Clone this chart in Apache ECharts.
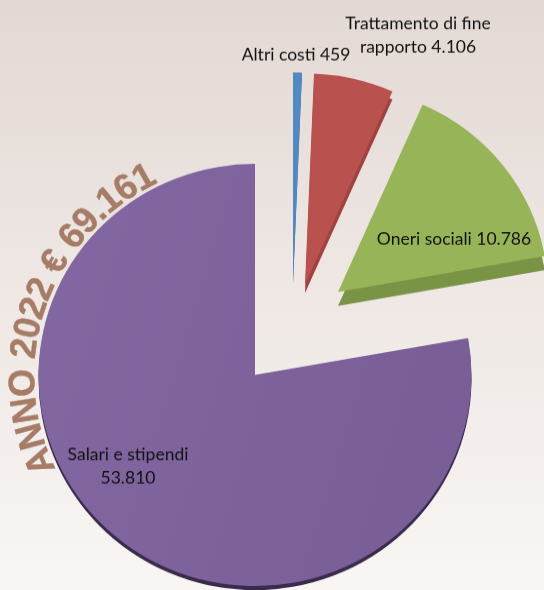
<!DOCTYPE html>
<html>
<head>
<meta charset="utf-8">
<style>
html,body{margin:0;padding:0;overflow:hidden}
#frame{width:544px;height:590px;overflow:hidden}
/* The pie is seen at a slight tilt, so its circles flatten a little */
#chart{width:544px;height:605.13px;transform:scaleY(.975);transform-origin:0 0}
</style>
<script src="https://cdn.jsdelivr.net/npm/echarts@6/dist/echarts.min.js"></script>
</head>
<body>
<div id="frame"><div id="chart"></div></div>
<script>
// Composizione del costo del personale, anno 2022
const categories = ['Salari e stipendi', 'Altri costi', 'Trattamento di fine rapporto', 'Oneri sociali'];
const values = [53810, 459, 4106, 10786];
const labelLines = ['Salari e stipendi\n', 'Altri costi ', 'Trattamento di fine\nrapporto ', 'Oneri sociali '];
const headline = 'ANNO 2022 € 69.161';

const tilt = 0.975;
const up = y => y / tilt;

// Faces and side walls of the exploded slices
const faceColors = [
  { type: 'linear', x: 0, y: 0, x2: 1, y2: 0.3, colorStops: [{ offset: 0, color: '#8368a3' }, { offset: 1, color: '#795e97' }] },
  '#5289c3', '#b9514f', '#97b458'
];
const wallColors = ['#3a2a4c', '#3f6c9e', '#a04240', '#7a9445'];
const slicePlace = [
  { center: [255, 375], radius: 216.5, wall: 4, label: [128, 466] },
  { center: [293, 283], radius: 216, wall: 1, label: [296, 55] },
  { center: [305, 285], radius: 217, wall: 8, label: [418, 35] },
  { center: [338, 292], radius: 210, wall: 14, label: [454, 239] }
];
const startAngle = 10.1;

const formatValue = v => String(v).replace(/\B(?=(\d{3})+$)/g, '.');

function pieFor(index, isWall) {
  const place = slicePlace[index];
  return {
    type: 'pie',
    animation: false,
    silent: true,
    startAngle,
    center: [place.center[0], up(place.center[1] + (isWall ? place.wall : 0))],
    radius: [0, place.radius],
    z: isWall ? 1 : 2,
    label: { show: false },
    labelLine: { show: false },
    data: categories.map((name, i) => ({
      name,
      value: values[i],
      itemStyle: {
        color: i === index ? (isWall ? wallColors[index] : faceColors[index]) : 'rgba(0,0,0,0)'
      }
    }))
  };
}

// Slice captions, each one built from its category's value
function sliceCaptions() {
  return categories.map((_, i) => ({
    type: 'text',
    x: slicePlace[i].label[0],
    y: up(slicePlace[i].label[1]),
    z: 6,
    style: {
      text: labelLines[i] + formatValue(values[i]),
      fill: '#111',
      fontFamily: 'Lato',
      fontSize: 17.5,
      lineHeight: 24,
      align: 'center',
      verticalAlign: 'middle'
    }
  }));
}

// Headline set letter by letter along the rim of the large slice
function arcLetters() {
  const advance = { ' ': 0.278, '.': 0.278, A: 0.722, N: 0.722, O: 0.778 };
  const cx = 255, cy = up(376), ring = 231, size = 37;
  const widths = Array.from(headline).map(ch => advance[ch] || 0.556);
  const total = widths.reduce((a, b) => a + b, 0);
  const first = -115.5, last = -26;
  let run = 0;
  return Array.from(headline).map((ch, i) => {
    const mid = run + widths[i] / 2;
    run += widths[i];
    const deg = first + (last - first) * mid / total;
    const rad = deg * Math.PI / 180;
    return {
      type: 'text',
      x: cx + ring * Math.sin(rad),
      y: cy - ring * Math.cos(rad),
      rotation: -rad,
      z: 5,
      style: {
        text: ch,
        fill: '#a67c66',
        stroke: '#a67c66',
        lineWidth: 0.4,
        fontFamily: 'Liberation Sans',
        fontWeight: 'bold',
        fontSize: size,
        align: 'center',
        verticalAlign: 'middle'
      }
    };
  });
}

const series = [];
categories.forEach((_, i) => { series.push(pieFor(i, true)); });
categories.forEach((_, i) => { series.push(pieFor(i, false)); });

const chart = echarts.init(document.getElementById('chart'), null, { renderer: 'canvas' });
chart.setOption({
  backgroundColor: {
    type: 'linear', x: 0, y: 0, x2: 0, y2: 1,
    colorStops: [
      { offset: 0, color: '#e3d9d4' },
      { offset: 0.5, color: '#efe8e5' },
      { offset: 1, color: '#f9f6f4' }
    ]
  },
  series,
  graphic: { elements: arcLetters().concat(sliceCaptions()) }
});
</script>
</body>
</html>
